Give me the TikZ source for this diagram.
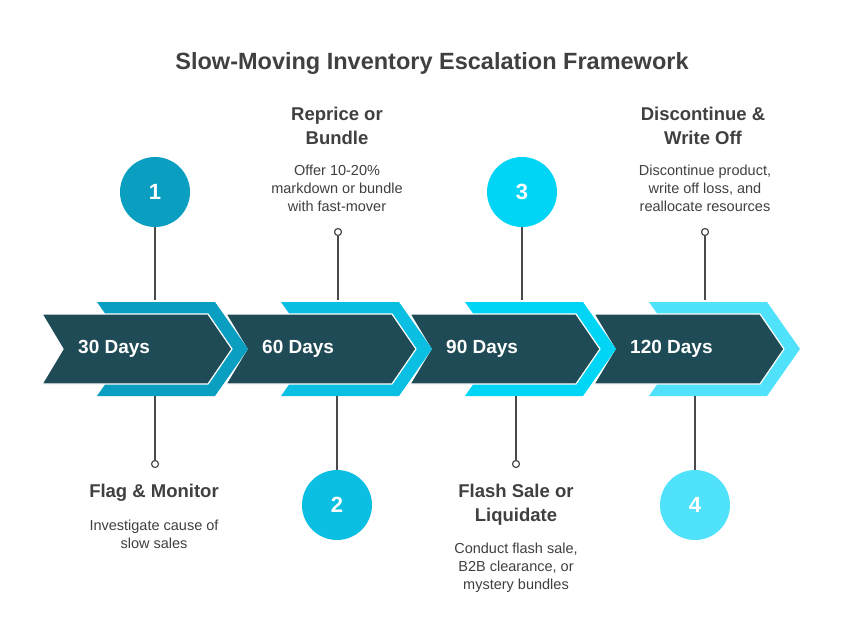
\documentclass[tikz,border=0pt]{standalone}
\usepackage{fontspec}
\setmainfont{Liberation Sans}
\begin{document}
\begin{tikzpicture}[x=1pt,y=-1pt,
  dark/.style={fill=darkc,draw=white,line width=1.2pt},
  ttl/.style={font=\bfseries\fontsize{18.5}{24}\selectfont,text=txt,align=center},
  desc/.style={font=\fontsize{14.5}{18}\selectfont,text=txt,align=center},
  num/.style={circle,minimum size=70pt,inner sep=0pt,font=\bfseries\fontsize{22}{24}\selectfont,text=white},
  days/.style={font=\bfseries\fontsize{19}{22}\selectfont,text=white,anchor=west,inner sep=0pt},
  conn/.style={draw=lin,line width=1.5pt},
  ring/.style={circle,draw=lin,line width=1.2pt,fill=white,minimum size=7pt,inner sep=0pt}]
\definecolor{darkc}{HTML}{1E4B56}
\definecolor{txt}{HTML}{404040}
\definecolor{lin}{HTML}{4A4A4A}
\definecolor{cA}{HTML}{0A9FC0}
\definecolor{cB}{HTML}{0BBFE3}
\definecolor{cC}{HTML}{00D5F6}
\definecolor{cD}{HTML}{4FE2FA}
\fill[white] (0,0) rectangle (863,643);
\useasboundingbox (0,0) rectangle (863,643);
\node[font=\bfseries\fontsize{23.5}{26}\selectfont,text=txt] (title) at (432,63) {Slow-Moving Inventory Escalation Framework};
\foreach \i/\c in {3/cD,2/cC,1/cB,0/cA}{
  \begin{scope}[xshift=184*\i]
  \fill[\c] (97,302) -- (215,302) -- (248,349) -- (215,396) -- (97,396) -- (130,349) -- cycle;
  \path[dark] (42,314) -- (208,314) -- (232,349) -- (208,384) -- (42,384) -- (63,349) -- cycle;
  \end{scope}
}
\node[days] (d1) at (78,349) {30 Days};
\node[days] (d2) at (262,349) {60 Days};
\node[days] (d3) at (446,349) {90 Days};
\node[days] (d4) at (630,349) {120 Days};
\node[num,fill=cA] (n1) at (155,192) {1};
\node[num,fill=cB] (n2) at (337,505) {2};
\node[num,fill=cC] (n3) at (522,192) {3};
\node[num,fill=cD] (n4) at (695,505) {4};
\coordinate (t1) at (155,300); \coordinate (b1) at (155,396);
\coordinate (t2) at (338,300); \coordinate (b2) at (337,396);
\coordinate (t3) at (522,300); \coordinate (b3) at (516,396);
\coordinate (t4) at (705,300); \coordinate (b4) at (695,396);
\node[ring] (r2) at (338,232) {};
\node[ring] (r1) at (155,464) {};
\node[ring] (r3) at (516,464) {};
\node[ring] (r4) at (705,232) {};
\draw[conn] (n1) -- (t1);
\draw[conn] (r2) -- (t2);
\draw[conn] (n3) -- (t3);
\draw[conn] (r4) -- (t4);
\draw[conn] (b1) -- (r1);
\draw[conn] (b2) -- (n2);
\draw[conn] (b3) -- (r3);
\draw[conn] (b4) -- (n4);
\node[ttl] (h2) at (337,126) {Reprice or\\Bundle};
\node[desc] (e2) at (337,188) {Offer 10-20\%\\markdown or bundle\\with fast-mover};
\node[ttl] (h4) at (703,126) {Discontinue \&\\Write Off};
\node[desc] (e4) at (705,188) {Discontinue product,\\write off loss, and\\reallocate resources};
\node[ttl] (h1) at (154,493) {Flag \& Monitor};
\node[desc] (e1) at (154,534) {Investigate cause of\\slow sales};
\node[ttl] (h3) at (516,505) {Flash Sale or\\Liquidate};
\node[desc] (e3) at (516,568) {Conduct flash sale,\\B2B clearance, or\\mystery bundles};
\end{tikzpicture}
\end{document}
